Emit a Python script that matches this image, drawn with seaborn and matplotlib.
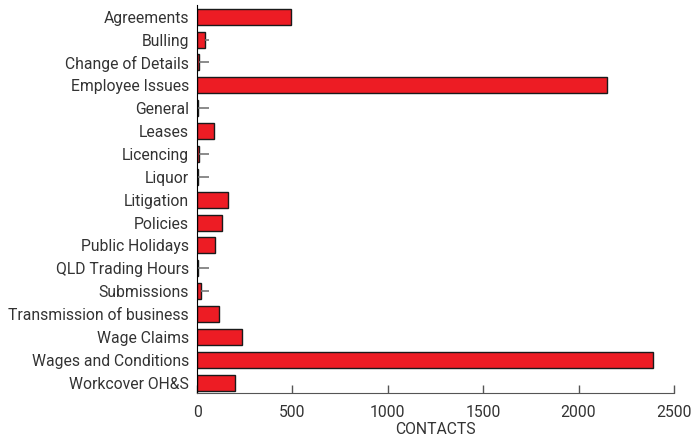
import matplotlib
matplotlib.use('Agg')
import matplotlib.pyplot as plt
import seaborn as sns
import pandas as pd

categories = ['Agreements', 'Bulling', 'Change of Details', 'Employee Issues', 'General',
              'Leases', 'Licencing', 'Liquor', 'Litigation', 'Policies', 'Public Holidays',
              'QLD Trading Hours', 'Submissions', 'Transmission of business', 'Wage Claims',
              'Wages and Conditions', 'Workcover OH&S']
contacts = [495, 44, 12, 2150, 7, 88, 10, 3, 160, 128, 96, 7, 18, 117, 238, 2390, 198]
# short categories get a small marker line out to this value
marker_end = 63

df = pd.DataFrame({'category': categories, 'contacts': contacts})

sns.set_style('white')
plt.rcParams['font.family'] = ['Roboto', 'DejaVu Sans']

fig = plt.figure(figsize=(6.94, 4.41), dpi=100)
ax = fig.add_axes([0.284, 0.109, 0.687, 0.879])

sns.barplot(data=df, x='contacts', y='category', orient='h', color='#ed1c24',
            saturation=1, edgecolor='#1a1a1a', linewidth=1, width=0.7, ax=ax)

small = df[df['contacts'] < marker_end - 10]
ax.hlines(small['category'], small['contacts'], marker_end, color='#777777', linewidth=1.2)

ax.set_xlim(0, 2500)
ax.set_ylim(16.45, -0.5)
ax.set_xticks([0, 500, 1000, 1500, 2000, 2500])
ax.set_xlabel('CONTACTS', fontsize=11.3, color='#333333', labelpad=1)
ax.set_ylabel('')
ax.tick_params(axis='x', bottom=True, direction='in', length=6, width=1, color='#555555',
               labelsize=11.3, labelcolor='#333333', pad=9)
ax.tick_params(axis='y', left=False, length=0, labelsize=11.3, labelcolor='#333333', pad=6)

for s in ['top', 'right']:
    ax.spines[s].set_visible(False)
ax.spines['left'].set_color('#000000')
ax.spines['bottom'].set_color('#555555')

fig.savefig('out.png', dpi=100)
